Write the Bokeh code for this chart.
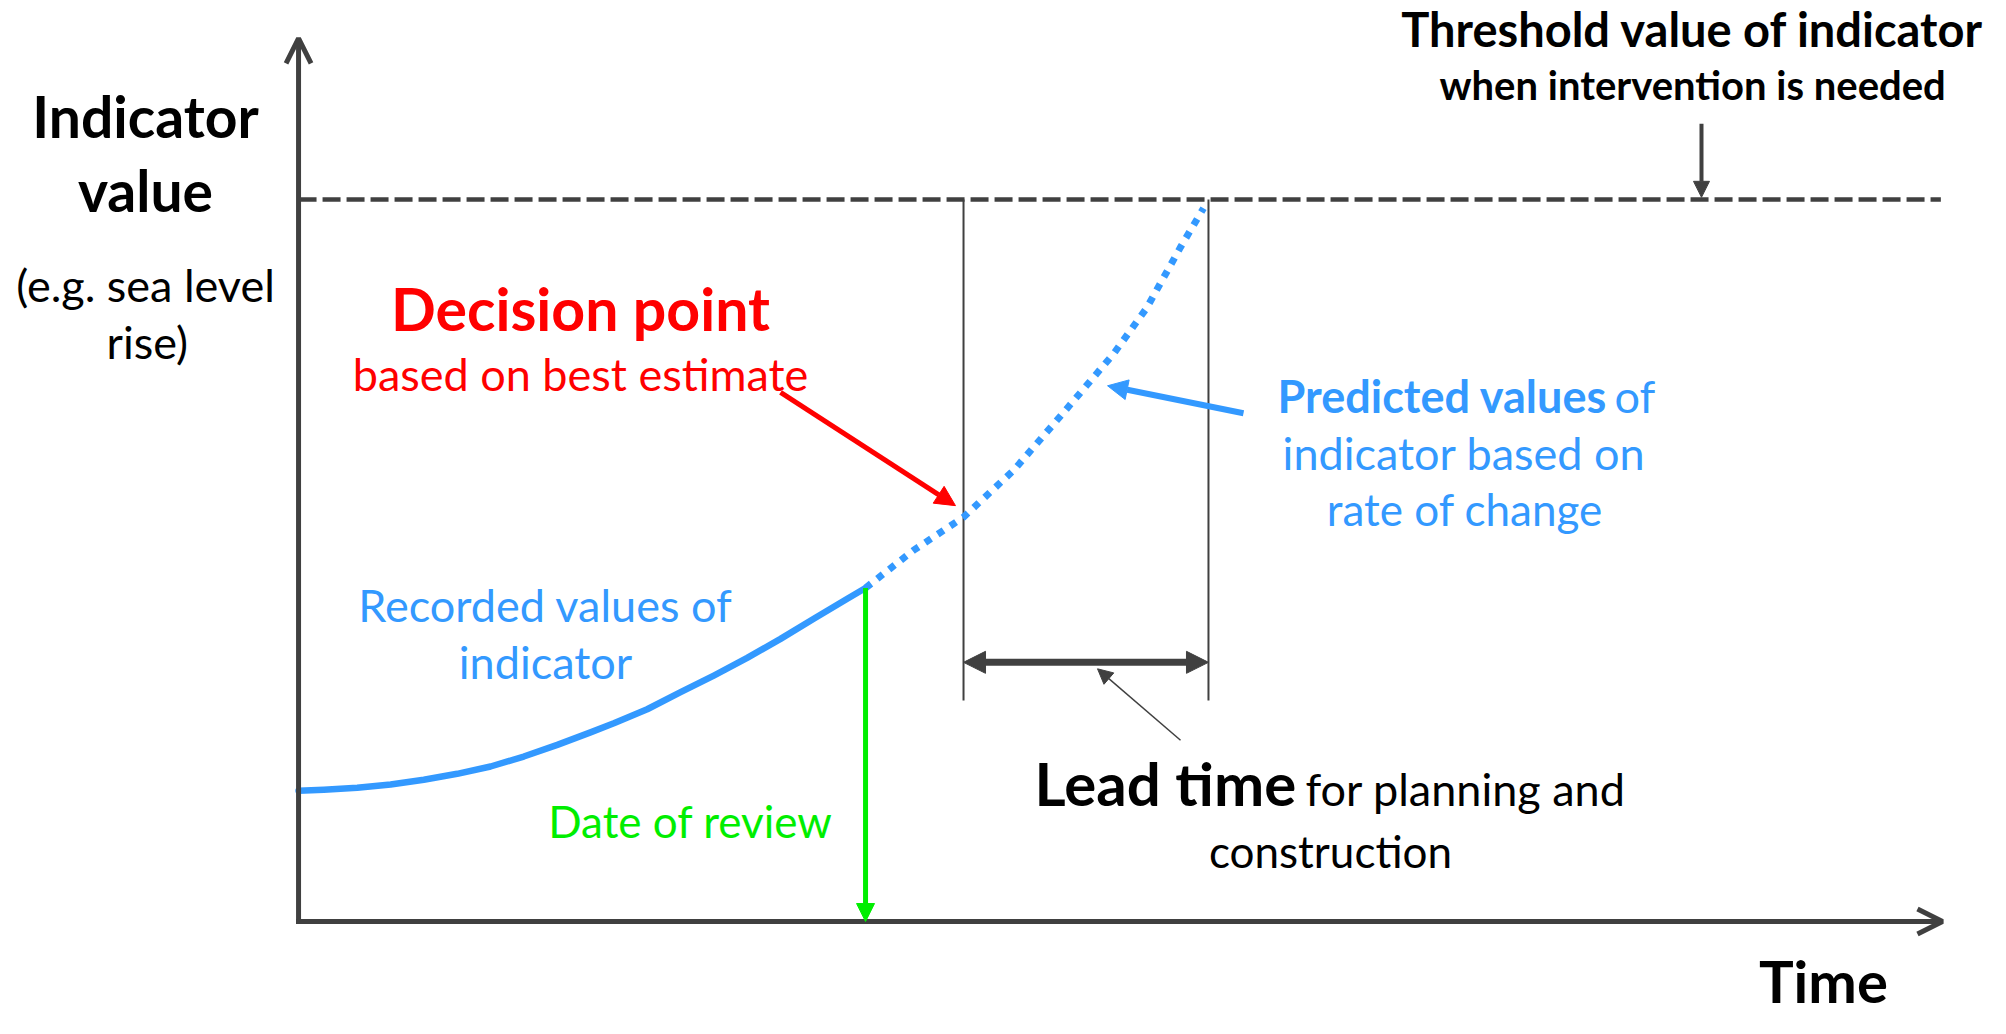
from bokeh.plotting import figure
from bokeh.models import Range1d, Arrow, OpenHead, NormalHead
from bokeh.core.properties import value
from bokeh.embed import file_html
from bokeh.resources import INLINE

# ---------------- data (abstract units: time 0-100, indicator value with threshold = 100) -------------
threshold = 100
recorded_time = [0, 1.54, 3.57, 5.60, 7.62, 9.65, 11.68, 13.70, 15.74, 17.76, 19.18, 21.21,
                 23.24, 25.26, 27.29, 29.32, 31.34, 33.38, 34.49]
recorded_value = [18.1, 18.24, 18.52, 18.98, 19.63, 20.46, 21.47, 22.85, 24.47, 26.2, 27.45, 29.4,
                  31.76, 34.07, 36.52, 39.15, 41.93, 44.70, 46.2]
predicted_time = [34.49, 37.4, 40.45, 43.5, 46.5, 49.6, 51.6, 53.65, 55.05]
predicted_value = [46.2, 51.4, 56.0, 62.5, 70.4, 78.7, 85.0, 93.4, 98.8]
review_time = 34.49
review_value = 46.2
decision_time = 40.45
threshold_time = 55.35
axis_time_end = 100
axis_value_end = 122.3

# ---------------- styling ----------------
DARK = "#404040"
BLUE = "#3399ff"
GREEN = "#00ee00"
RED = "#ff0000"
FONT = "Lato"

W, H = 1990, 1018
PX_PER_VALUE = 7.22
p = figure(width=W, height=H, x_range=Range1d(-18.13, 102.92), y_range=Range1d(-13.43, 127.56),
           output_backend="svg", toolbar_location=None, min_border=0,
           x_axis_type=None, y_axis_type=None, outline_line_color=None)
p.grid.visible = False
p.background_fill_color = "white"
p.border_fill_color = "white"

# axes with arrows
p.add_layout(Arrow(end=OpenHead(size=25, line_width=5, line_color=DARK),
                   x_start=0, y_start=-0.35, x_end=0, y_end=axis_value_end,
                   line_width=5, line_color=DARK))
p.add_layout(Arrow(end=OpenHead(size=25, line_width=5, line_color=DARK),
                   x_start=-0.15, y_start=0, x_end=axis_time_end, y_end=0,
                   line_width=5, line_color=DARK))

# threshold dashed line
p.line([0, 99.9], [threshold, threshold], line_dash="18 6", line_width=4.5, line_color=DARK)

# vertical lines at decision point and threshold crossing
p.segment(x0=[decision_time, threshold_time], y0=[threshold, threshold],
          x1=[decision_time, threshold_time], y1=[30.6, 30.6], line_width=2, line_color=DARK)

# lead-time double arrow
p.add_layout(Arrow(start=NormalHead(size=22, fill_color=DARK, line_color=DARK),
                   end=NormalHead(size=22, fill_color=DARK, line_color=DARK),
                   x_start=decision_time, y_start=35.9, x_end=threshold_time, y_end=35.9,
                   line_width=7, line_color=DARK))
# lead-time pointer
p.add_layout(Arrow(end=NormalHead(size=15, fill_color=DARK, line_color=DARK, line_width=1),
                   x_start=53.65, y_start=25.1, x_end=48.6, y_end=35.0,
                   line_width=1.5, line_color=DARK))

# recorded and predicted curves
p.line(recorded_time, recorded_value, line_width=6.5, line_color=BLUE, line_cap="round",
       line_join="round")
p.line(predicted_time, predicted_value, line_width=7, line_color=BLUE, line_dash="7 8")

# date of review arrow
p.add_layout(Arrow(end=NormalHead(size=18, fill_color=GREEN, line_color=GREEN),
                   x_start=review_time, y_start=review_value, x_end=review_time, y_end=0,
                   line_width=5, line_color=GREEN))

# decision point arrow
p.add_layout(Arrow(end=NormalHead(size=20, fill_color=RED, line_color=RED),
                   x_start=29.32, y_start=73.3, x_end=39.96, y_end=57.6,
                   line_width=5, line_color=RED))

# predicted values arrow
p.add_layout(Arrow(end=NormalHead(size=20, fill_color=BLUE, line_color=BLUE),
                   x_start=57.48, y_start=70.4, x_end=49.21, y_end=74.2,
                   line_width=6, line_color=BLUE))

# threshold arrow
p.add_layout(Arrow(end=NormalHead(size=16, fill_color=DARK, line_color=DARK),
                   x_start=85.34, y_start=110.5, x_end=85.34, y_end=100.3,
                   line_width=4, line_color=DARK))


def txt(x, y, s, size, color="black", bold=False, align="center"):
    # the rendered alphabetic baseline sits about 0.4 em below the requested one: compensate
    y_fix = y + 0.4 * size / PX_PER_VALUE
    p.text(x=[x], y=[y_fix], text=[s], text_font=value(FONT), text_font_size=f"{size}px",
           text_font_style="bold" if bold else "normal", text_color=color,
           text_align=align, text_baseline="alphabetic")


# y axis label
txt(-9.31, 108.4, "Indicator", 57, bold=True)
txt(-9.31, 98.2, "value", 57, bold=True)
txt(-9.31, 85.7, "(e.g. sea level", 45)
txt(-9.2, 77.8, "rise)", 45)

# decision point
txt(17.15, 81.7, "Decision point", 59, color=RED, bold=True)
txt(17.15, 73.4, "based on best estimate", 45, color=RED)

# threshold
txt(84.8, 121.05, "Threshold value of indicator", 47, bold=True)
txt(84.8, 113.7, "when intervention is needed", 40, bold=True)

# predicted values
txt(59.55, 70.25, "Predicted values", 45, color=BLUE, bold=True, align="left")
txt(80.05, 70.25, "of", 45, color=BLUE, align="left")
txt(70.9, 62.4, "indicator based on", 45, color=BLUE)
txt(70.95, 54.7, "rate of change", 44, color=BLUE)

# recorded values
txt(15.02, 41.3, "Recorded values of", 45, color=BLUE)
txt(15.02, 33.5, "indicator", 45, color=BLUE)

# date of review
txt(23.84, 11.5, "Date of review", 44, color=GREEN)

# lead time
txt(44.77, 15.9, "Lead time", 60, bold=True, align="left")
txt(61.25, 15.9, "for planning and", 45, align="left")
txt(62.77, 7.3, "construction", 44)

# x axis label
txt(92.76, -11.4, "Time", 58, bold=True)

open("out.html", "w").write(file_html(p, INLINE))
